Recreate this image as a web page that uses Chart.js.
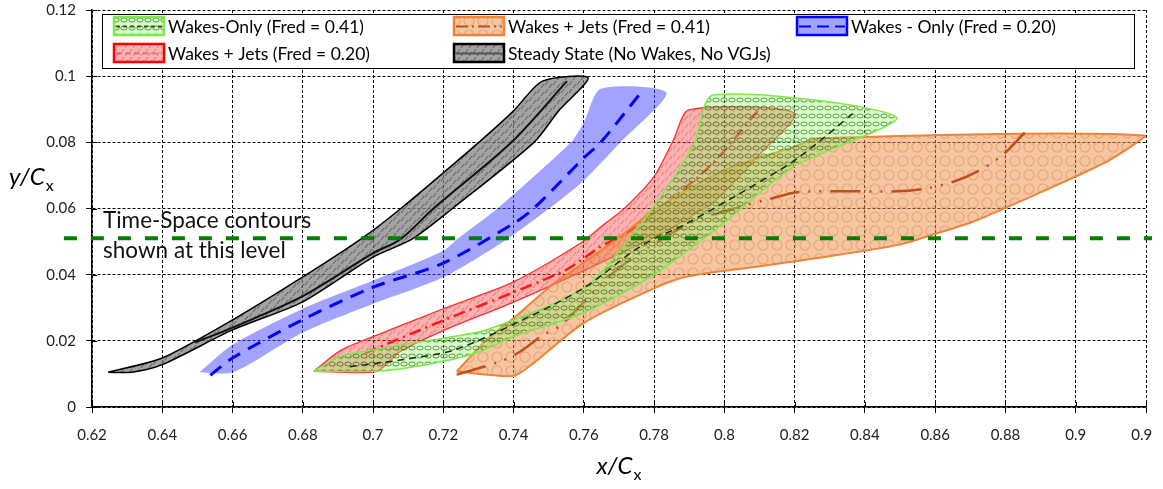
<!DOCTYPE html>
<html>
<head>
<meta charset="utf-8">
<script src="https://cdn.jsdelivr.net/npm/chart.js@4/dist/chart.umd.min.js"></script>
<style>
  html, body { margin: 0; padding: 0; background: #fff; }
  #wrap { position: relative; width: 1152px; height: 489px; overflow: hidden; }
  #c { position: absolute; left: 0; top: 0; }
</style>
</head>
<body>
<div id="wrap"><canvas id="c" width="1163" height="489"></canvas></div>
<script>
// ---- axis ranges ----
const xRange = [0.62, 0.92];
const yRange = [0, 0.12];
const tickStep = 0.02;

// ---- series names ----
const seriesNames = [
  'Wakes-Only (Fred = 0.41)',
  'Wakes + Jets (Fred = 0.41)',
  'Wakes - Only (Fred = 0.20)',
  'Wakes + Jets (Fred = 0.20)',
  'Steady State (No Wakes, No VGJs)'
];

// ---- Steady state envelope (outline, x then y) and mean line ----
const steadyBandX = [0.6246, 0.640, 0.660, 0.680, 0.6966, 0.7079, 0.7301, 0.740, 0.7482, 0.7612,
                     0.7528, 0.7458, 0.7226, 0.7112, 0.700, 0.680, 0.660, 0.640, 0.6313];
const steadyBandY = [0.0105, 0.0148, 0.0263, 0.0393, 0.0508, 0.0600, 0.0800, 0.0895, 0.0985, 0.0995,
                     0.0895, 0.0800, 0.0600, 0.0508, 0.0453, 0.0318, 0.0233, 0.0128, 0.0105];
const steadyLineX = [0.6493, 0.660, 0.680, 0.700, 0.7079, 0.7172, 0.7394, 0.7552];
const steadyLineY = [0.0195, 0.0240, 0.0335, 0.0465, 0.0508, 0.0600, 0.0800, 0.0985];

// ---- Wakes-only, Fred = 0.20 ----
const wakes20BandX = [0.6506, 0.660, 0.680, 0.700, 0.720, 0.724, 0.7354, 0.7563, 0.760, 0.7648, 0.7835,
                      0.7704, 0.760, 0.7501, 0.7378, 0.720, 0.700, 0.680, 0.6602];
const wakes20BandY = [0.0105, 0.0188, 0.0297, 0.0382, 0.0472, 0.0508, 0.0600, 0.0800, 0.0860, 0.0962, 0.0950,
                      0.0800, 0.0685, 0.0600, 0.0505, 0.0392, 0.0312, 0.0225, 0.0105];
const wakes20LineX = [0.6537, 0.660, 0.680, 0.700, 0.720, 0.740, 0.7457, 0.760, 0.7648, 0.7768];
const wakes20LineY = [0.0096, 0.0148, 0.0264, 0.0362, 0.0435, 0.0555, 0.0600, 0.0753, 0.0800, 0.0958];

// ---- Wakes + jets, Fred = 0.20 ----
const jets20BandX = [0.6831, 0.6908, 0.700, 0.720, 0.740, 0.7589, 0.7649, 0.7715, 0.780, 0.7855, 0.7899, 0.820,
                     0.8104, 0.7972, 0.7819, 0.7724, 0.760, 0.740, 0.720, 0.7078, 0.7011];
const jets20BandY = [0.0108, 0.0171, 0.0213, 0.0297, 0.0378, 0.0494, 0.0545, 0.0600, 0.0697, 0.0807, 0.0898, 0.0888,
                     0.0768, 0.0623, 0.0523, 0.0475, 0.0412, 0.0317, 0.0231, 0.0168, 0.0108];
const jets20LineX = [0.6978, 0.720, 0.740, 0.7553, 0.7648, 0.7725, 0.7953, 0.8103];
const jets20LineY = [0.0163, 0.0262, 0.0347, 0.0417, 0.0485, 0.0528, 0.0723, 0.0905];

// ---- Wakes-only, Fred = 0.41 ----
const wakes41BandX = [0.6831, 0.6907, 0.7002, 0.7106, 0.7201, 0.7305, 0.740, 0.7505, 0.760, 0.7648, 0.7729, 0.7795, 0.786, 0.7915, 0.7968, 0.849,
                      0.8196, 0.7997, 0.7798, 0.760, 0.740, 0.7305, 0.7201, 0.7078, 0.7002];
const wakes41BandY = [0.0108, 0.0153, 0.0173, 0.0193, 0.0208, 0.0228, 0.0263, 0.0308, 0.0360, 0.0405, 0.0508, 0.0600, 0.0700, 0.0800, 0.0943, 0.0876,
                      0.0726, 0.0555, 0.0399, 0.0285, 0.0213, 0.0168, 0.0138, 0.0115, 0.0108];
const wakes41LineX = [0.6934, 0.7077, 0.7229, 0.740, 0.760, 0.776, 0.7893, 0.8035, 0.8206, 0.8367];
const wakes41LineY = [0.0122, 0.0142, 0.0172, 0.0250, 0.0360, 0.0485, 0.0555, 0.0640, 0.0750, 0.0888];

// ---- Wakes + jets, Fred = 0.41 ----
const jets41BandX = [0.7238, 0.7323, 0.740, 0.7504, 0.760, 0.7703, 0.780, 0.800, 0.820, 0.8265, 0.920,
                     0.9094, 0.8903, 0.8796, 0.8707, 0.859, 0.8495, 0.8295, 0.8096, 0.7897, 0.7798, 0.7598, 0.7456, 0.7399];
const jets41BandY = [0.0107, 0.0203, 0.0268, 0.0364, 0.0436, 0.0515, 0.0595, 0.0716, 0.0787, 0.0812, 0.0820,
                     0.0745, 0.0650, 0.0600, 0.0560, 0.0520, 0.0490, 0.0455, 0.0425, 0.0395, 0.0358, 0.0253, 0.0132, 0.0094];
const jets41LineX = [0.7238, 0.7361, 0.7418, 0.7484, 0.7532, 0.770, 0.7902, 0.8044, 0.8119, 0.8215, 0.849, 0.8576, 0.8652, 0.8718, 0.8789, 0.8855];
const jets41LineY = [0.0098, 0.0137, 0.0167, 0.0218, 0.0245, 0.0420, 0.0555, 0.0605, 0.0626, 0.0650, 0.0652, 0.0661, 0.0681, 0.0711, 0.0759, 0.0829];

// ---- Time-space contour level ----
const contourLevelX = [0.612, 0.9235];
const contourLevelY = [0.051, 0.051];
const contourNote = ['Time-Space contours', 'shown at this level'];

// ---------------------------------------------------------------
const canvas = document.getElementById('c');
const ctx2d = canvas.getContext('2d');

function pts(xs, ys) { return xs.map((x, i) => ({ x: x, y: ys[i] })); }
function closedPts(xs, ys) { const p = pts(xs, ys); p.push({ x: xs[0], y: ys[0] }); return p; }

function makePattern(size, bg, draw) {
  const c = document.createElement('canvas');
  c.width = size; c.height = size;
  const g = c.getContext('2d');
  g.fillStyle = bg; g.fillRect(0, 0, size, size);
  draw(g, size);
  return ctx2d.createPattern(c, 'repeat');
}

// fill textures for the envelopes
const steadyFill = makePattern(8, 'rgba(128,128,128,0.72)', (g) => {
  g.strokeStyle = 'rgba(60,60,60,0.55)'; g.lineWidth = 1.2;
  g.beginPath(); g.moveTo(1, 5); g.lineTo(4, 1); g.moveTo(5, 8); g.lineTo(8, 4); g.stroke();
});
const jets20Fill = makePattern(8, 'rgba(255,70,70,0.42)', (g) => {
  g.strokeStyle = 'rgba(190,50,50,0.35)'; g.lineWidth = 1.2;
  g.beginPath(); g.moveTo(1, 5); g.lineTo(4, 1); g.moveTo(5, 8); g.lineTo(8, 4); g.stroke();
});
const wakes41Fill = makePattern(8, 'rgba(140,255,100,0.38)', (g) => {
  g.strokeStyle = 'rgba(30,50,10,0.55)'; g.lineWidth = 1;
  g.beginPath(); g.ellipse(4, 4, 3.2, 2, 0, 0, Math.PI * 2); g.stroke();
});
const jets41Fill = makePattern(14, 'rgba(238,140,70,0.5)', (g) => {
  g.strokeStyle = 'rgba(190,100,50,0.3)'; g.lineWidth = 1.2;
  g.beginPath(); g.arc(7, 7, 5, 0, Math.PI * 2); g.stroke();
});
const wakes20Fill = 'rgba(70,70,255,0.5)';

const series = [
  { band: closedPts(steadyBandX, steadyBandY), line: pts(steadyLineX, steadyLineY),
    fill: steadyFill, edge: '#000000', edgeW: 1.5, lineColor: '#111111', lineW: 2, dash: [] },
  { band: closedPts(wakes20BandX, wakes20BandY), line: pts(wakes20LineX, wakes20LineY),
    fill: wakes20Fill, edge: 'rgba(0,0,0,0)', edgeW: 0, lineColor: '#0000ff', lineW: 3, dash: [14, 9] },
  { band: closedPts(jets20BandX, jets20BandY), line: pts(jets20LineX, jets20LineY),
    fill: jets20Fill, edge: '#ff3030', edgeW: 1.3, lineColor: '#ff1a1a', lineW: 2.5, dash: [12, 5, 2, 5] },
  { band: closedPts(jets41BandX, jets41BandY), line: pts(jets41LineX, jets41LineY),
    fill: jets41Fill, edge: '#ee8436', edgeW: 2, lineColor: '#c0501a', lineW: 2.5, dash: [30, 9, 2, 9, 2, 9] },
  { band: closedPts(wakes41BandX, wakes41BandY), line: pts(wakes41LineX, wakes41LineY),
    fill: wakes41Fill, edge: '#7fe84f', edgeW: 1.5, lineColor: '#1c2a12', lineW: 1.5, dash: [7, 5] }
];

const datasets = [];
let order = 20;
series.forEach((s) => {
  datasets.push({
    data: s.band, fill: 'shape', backgroundColor: s.fill, borderColor: s.edge,
    borderWidth: s.edgeW, pointRadius: 0, tension: 0.25, order: order--
  });
  datasets.push({
    data: s.line, fill: false, borderColor: s.lineColor, borderWidth: s.lineW,
    borderDash: s.dash, pointRadius: 0, tension: 0.3, order: order--
  });
});
datasets.push({
  data: pts(contourLevelX, contourLevelY), fill: false, borderColor: '#008000',
  borderWidth: 4, borderDash: [13, 14], pointRadius: 0, clip: false, order: 0
});

const FONT = 'Lato, "Open Sans", sans-serif';

// legend swatches: [pattern, border, line colour, line dash]
const legendCells = [
  { fill: wakes41Fill, edge: '#7fe84f', line: '#3a5a2a', dash: [4, 3] },
  { fill: jets41Fill, edge: '#ee8436', line: '#c0501a', dash: [12, 4, 2, 4] },
  { fill: wakes20Fill, edge: '#0000ff', line: '#0000ff', dash: [12, 6] },
  { fill: jets20Fill, edge: '#ff0000', line: 'rgba(200,40,40,0.4)', dash: [6, 3] },
  { fill: steadyFill, edge: '#000000', line: '#555555', dash: [] }
];
const legendSlots = [[114, 26], [454, 26], [797, 26], [114, 53], [454, 53]];

const overlay = {
  id: 'overlay',
  afterDatasetsDraw(chart) {
    const ctx = chart.ctx;
    const xs = chart.scales.x, ys = chart.scales.y;
    const area = chart.chartArea;
    ctx.save();
    // inner half of the crossing tick marks
    ctx.strokeStyle = '#000'; ctx.lineWidth = 1;
    ctx.beginPath();
    xs.ticks.forEach(t => { const p = Math.round(xs.getPixelForValue(t.value)) + 0.5; ctx.moveTo(p, area.bottom); ctx.lineTo(p, area.bottom - 5); });
    ys.ticks.forEach(t => { const p = Math.round(ys.getPixelForValue(t.value)) + 0.5; ctx.moveTo(area.left, p); ctx.lineTo(area.left + 5, p); });
    ctx.stroke();

    // legend box
    const bx = 102, by = 14, bw = 1032, bh = 54;
    ctx.fillStyle = '#fff'; ctx.fillRect(bx, by, bw, bh);
    ctx.strokeStyle = '#000'; ctx.lineWidth = 1;
    ctx.strokeRect(bx + 0.5, by + 0.5, bw, bh);
    legendCells.forEach((cell, i) => {
      const [sx, cy] = legendSlots[i];
      const sw = 50, sh = 18, sy = cy - sh / 2;
      ctx.fillStyle = '#fff'; ctx.fillRect(sx, sy, sw, sh);
      ctx.fillStyle = cell.fill; ctx.fillRect(sx, sy, sw, sh);
      ctx.strokeStyle = cell.line; ctx.lineWidth = 2; ctx.setLineDash(cell.dash);
      ctx.beginPath(); ctx.moveTo(sx + 2, cy + 0.5); ctx.lineTo(sx + sw - 2, cy + 0.5); ctx.stroke();
      ctx.setLineDash([]);
      ctx.strokeStyle = cell.edge; ctx.lineWidth = 2.5;
      ctx.strokeRect(sx, sy, sw, sh);
      ctx.fillStyle = '#000'; ctx.font = '17.5px ' + FONT;
      ctx.textAlign = 'left'; ctx.textBaseline = 'middle';
      ctx.fillText(seriesNames[i], sx + 54, cy + 1);
    });

    // note beside the contour level
    ctx.fillStyle = '#111'; ctx.font = '22.5px ' + FONT;
    ctx.textAlign = 'left'; ctx.textBaseline = 'alphabetic';
    ctx.fillText(contourNote[0], 103, 228);
    ctx.fillText(contourNote[1], 103, 258);

    // axis titles with subscripts
    ctx.fillStyle = '#000';
    ctx.font = 'italic 24px ' + FONT;
    ctx.fillText('y/C', 9, 185);
    let w = ctx.measureText('y/C').width;
    ctx.font = '16px ' + FONT;
    ctx.fillText('x', 9 + w + 1, 191);

    ctx.font = 'italic 24px ' + FONT;
    const tw = ctx.measureText('x/C').width;
    ctx.font = '16px ' + FONT;
    const sw2 = ctx.measureText('x').width;
    const x0 = (area.left + area.right) / 2 - (tw + sw2 + 1) / 2;
    ctx.font = 'italic 24px ' + FONT;
    ctx.fillText('x/C', x0, 474);
    ctx.font = '16px ' + FONT;
    ctx.fillText('x', x0 + tw + 1, 480);
    ctx.restore();
  }
};

function fmt(v) { return String(+v.toFixed(2)); }

new Chart(canvas, {
  type: 'line',
  data: { datasets: datasets },
  options: {
    responsive: false,
    devicePixelRatio: 1,
    animation: false,
    events: [],
    layout: { padding: { top: 10, right: 17, left: 0, bottom: 0 } },
    plugins: { legend: { display: false }, tooltip: { enabled: false } },
    scales: {
      x: {
        type: 'linear', min: xRange[0], max: xRange[1],
        ticks: { stepSize: tickStep, callback: fmt, color: '#222', padding: 13,
                 font: { family: FONT, size: 15 }, maxRotation: 0, autoSkip: false },
        grid: { color: '#000', lineWidth: 1, tickLength: 6, tickColor: '#000' },
        border: { display: true, color: '#000', width: 1.5, dash: [3, 2] },
        afterFit: (s) => { s.height = 82; s.paddingLeft = 0; s.paddingRight = 0; }
      },
      y: {
        type: 'linear', min: yRange[0], max: yRange[1],
        ticks: { stepSize: tickStep, callback: fmt, color: '#222', padding: 10,
                 font: { family: FONT, size: 15 } },
        grid: { color: '#000', lineWidth: 1, tickLength: 6, tickColor: '#000' },
        border: { display: true, color: '#000', width: 1.5, dash: [3, 2] },
        afterFit: (s) => { s.width = 92; s.paddingTop = 0; s.paddingBottom = 0; }
      }
    }
  },
  plugins: [overlay]
});
</script>
</body>
</html>
